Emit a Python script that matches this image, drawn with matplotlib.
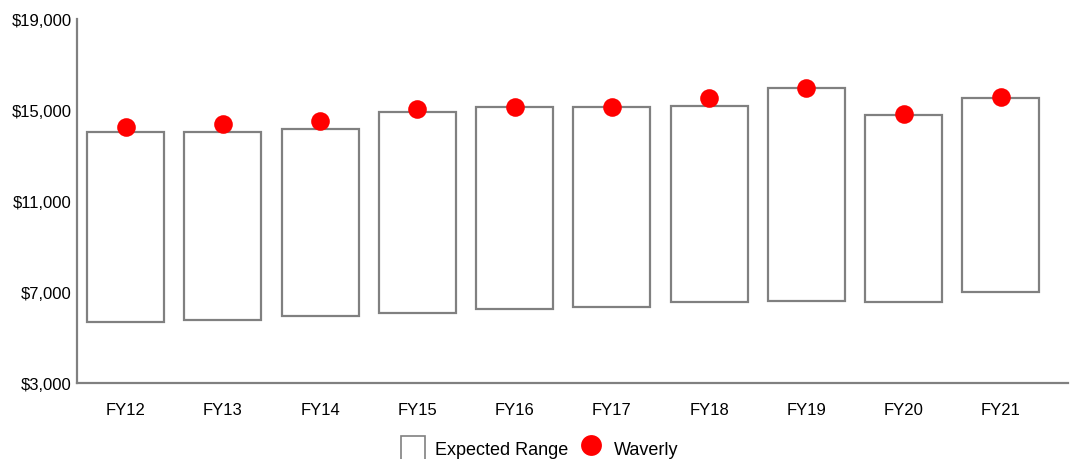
import numpy as np
import matplotlib.pyplot as plt
from matplotlib.patches import Patch
from matplotlib.lines import Line2D

plt.rcParams['font.family'] = ['Liberation Sans', 'DejaVu Sans']

years = ['FY12', 'FY13', 'FY14', 'FY15', 'FY16', 'FY17', 'FY18', 'FY19', 'FY20', 'FY21']
range_low = [5695, 5770, 5960, 6060, 6270, 6355, 6575, 6620, 6575, 7015]
range_high = [14030, 14030, 14180, 14930, 15130, 15150, 15180, 15970, 14800, 15540]
waverly = [14240, 14385, 14500, 15030, 15120, 15150, 15540, 15950, 14810, 15555]
y_ticks = [3000, 7000, 11000, 15000, 19000]

GRAY = '#808080'

fig = plt.figure(figsize=(10.73, 4.6), dpi=100)
ax = fig.add_axes([77 / 1073, 76 / 460, 991 / 1073, 364 / 460])

x = np.arange(len(years))
heights = np.array(range_high) - np.array(range_low)
ax.bar(x, heights, bottom=range_low, width=0.79, facecolor='white',
       edgecolor=GRAY, linewidth=1.6, zorder=2)
ax.scatter(x, waverly, s=180, color='#ff0000', zorder=3, linewidths=0)

ax.set_ylim(3000, 19000)
ax.set_xlim(-0.5, 9.69)
ax.set_yticks(y_ticks)
ax.set_yticklabels(['${:,}'.format(v) for v in y_ticks])
ax.set_xticks(x)
ax.set_xticklabels(years)
ax.tick_params(axis='y', length=0, pad=4, labelsize=12, labelcolor='black')
ax.tick_params(axis='x', length=0, pad=14, labelsize=12, labelcolor='black')

for s in ['top', 'right']:
    ax.spines[s].set_visible(False)
for s in ['left', 'bottom']:
    ax.spines[s].set_color(GRAY)
    ax.spines[s].set_linewidth(1.6)

handles = [
    Patch(facecolor='white', edgecolor=GRAY, linewidth=1.2, label='Expected Range'),
    Line2D([], [], marker='o', linestyle='none', color='#ff0000', markersize=15,
           markeredgewidth=0, label='Waverly'),
]
fig.legend(handles=handles, loc='center', bbox_to_anchor=(0.503, 0.023), ncol=2,
           frameon=False, fontsize=13, handlelength=1.3, handleheight=1.7,
           handletextpad=0.6, columnspacing=0.6, borderaxespad=0, borderpad=0)

fig.savefig('out.png', dpi=100)
